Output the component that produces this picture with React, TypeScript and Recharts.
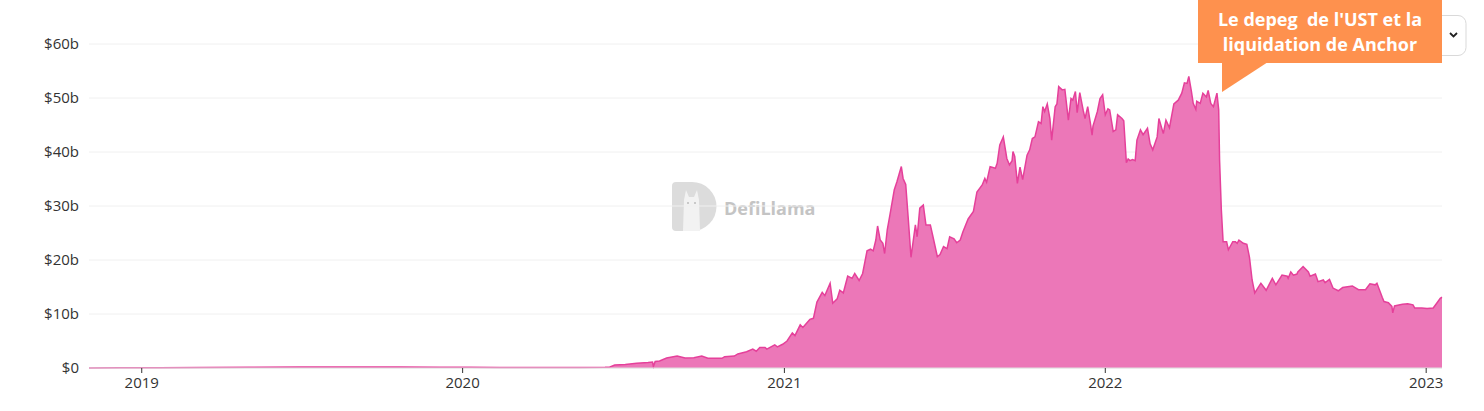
import React from "react";
import { AreaChart, Area, XAxis, YAxis, CartesianGrid } from "recharts";

const dates: string[] = [
  "2018-11-02","2018-12-07","2019-01-21","2019-03-08","2019-05-03","2019-06-29","2019-08-26","2019-10-22","2019-12-06","2020-01-09",
  "2020-02-12","2020-03-29","2020-05-13","2020-06-11","2020-06-16","2020-06-22","2020-07-04","2020-07-17","2020-07-30","2020-08-04",
  "2020-08-05","2020-08-07","2020-08-12","2020-08-20","2020-09-01","2020-09-10","2020-09-20","2020-09-29","2020-10-06","2020-10-22",
  "2020-10-25","2020-11-05","2020-11-09","2020-11-19","2020-11-26","2020-11-30","2020-12-04","2020-12-10","2020-12-12","2020-12-21",
  "2020-12-24","2020-12-30","2021-01-04","2021-01-10","2021-01-13","2021-01-19","2021-01-22","2021-01-30","2021-02-03","2021-02-07",
  "2021-02-13","2021-02-16","2021-02-22","2021-02-25","2021-03-02","2021-03-05","2021-03-09","2021-03-14","2021-03-19","2021-03-22",
  "2021-03-27","2021-03-31","2021-04-05","2021-04-09","2021-04-12","2021-04-15","2021-04-17","2021-04-20","2021-04-23","2021-04-25",
  "2021-04-28","2021-05-01","2021-05-06","2021-05-09","2021-05-14","2021-05-16","2021-05-19","2021-05-22","2021-05-25","2021-05-30",
  "2021-06-01","2021-06-04","2021-06-08","2021-06-11","2021-06-16","2021-06-19","2021-06-24","2021-06-27","2021-07-01","2021-07-05",
  "2021-07-08","2021-07-13","2021-07-16","2021-07-20","2021-07-23","2021-07-29","2021-08-04","2021-08-08","2021-08-14","2021-08-17",
  "2021-08-19","2021-08-23","2021-08-29","2021-08-31","2021-09-03","2021-09-07","2021-09-11","2021-09-14","2021-09-17","2021-09-18",
  "2021-09-20","2021-09-23","2021-09-26","2021-09-29","2021-10-04","2021-10-07","2021-10-10","2021-10-13","2021-10-17","2021-10-20",
  "2021-10-22","2021-10-24","2021-10-27","2021-10-30","2021-11-01","2021-11-05","2021-11-07","2021-11-09","2021-11-13","2021-11-16",
  "2021-11-20","2021-11-23","2021-11-25","2021-11-28","2021-11-30","2021-12-03","2021-12-07","2021-12-09","2021-12-12","2021-12-15",
  "2021-12-17","2021-12-18","2021-12-23","2021-12-26","2021-12-29","2022-01-01","2022-01-04","2022-01-06","2022-01-10","2022-01-13",
  "2022-01-15","2022-01-20","2022-01-22","2022-01-25","2022-01-27","2022-01-29","2022-02-01","2022-02-04","2022-02-06","2022-02-10",
  "2022-02-13","2022-02-18","2022-02-21","2022-02-24","2022-03-01","2022-03-03","2022-03-08","2022-03-11","2022-03-15","2022-03-20",
  "2022-03-25","2022-03-29","2022-04-01","2022-04-04","2022-04-06","2022-04-09","2022-04-11","2022-04-14","2022-04-15","2022-04-19",
  "2022-04-22","2022-04-26","2022-04-28","2022-05-01","2022-05-04","2022-05-08","2022-05-10","2022-05-11","2022-05-13","2022-05-15",
  "2022-05-19","2022-05-21","2022-05-26","2022-05-29","2022-05-31","2022-06-02","2022-06-07","2022-06-11","2022-06-14","2022-06-17",
  "2022-06-20","2022-06-27","2022-07-03","2022-07-10","2022-07-14","2022-07-21","2022-07-27","2022-07-28","2022-07-31","2022-08-03",
  "2022-08-07","2022-08-08","2022-08-14","2022-08-20","2022-08-22","2022-08-28","2022-08-31","2022-09-06","2022-09-08","2022-09-13",
  "2022-09-17","2022-09-23","2022-09-28","2022-10-09","2022-10-16","2022-10-24","2022-10-29","2022-11-04","2022-11-06","2022-11-12",
  "2022-11-14","2022-11-19","2022-11-23","2022-11-24","2022-11-26","2022-12-05","2022-12-11","2022-12-17","2022-12-19","2022-12-27",
  "2023-01-02","2023-01-09","2023-01-13","2023-01-17","2023-01-19",
];

const tvlBillions: number[] = [
  0.02,0.03,0.05,0.08,0.12,0.18,0.2,0.18,0.15,0.12,
  0.1,0.08,0.1,0.12,0.15,0.55,0.65,0.87,1.0,1.1,
  0.3,1.2,1.3,1.85,2.2,1.85,1.9,2.2,1.8,1.8,
  2.1,2.2,2.6,3.0,3.5,3.1,3.8,3.8,3.5,4.3,
  3.9,4.4,5.0,6.5,6.0,8.0,7.5,9.0,9.2,12.2,
  14.0,13.4,15.7,12.0,12.8,14.4,13.9,17.0,16.6,17.5,
  16.2,17.5,21.7,22.0,21.7,23.7,26.3,23.7,23.1,21.2,
  25.6,28.3,33.0,34.5,37.3,35.1,34.0,27.4,20.5,26.5,
  24.3,29.6,30.2,26.5,26.5,24.3,20.6,21.0,22.5,22.1,
  24.3,23.9,23.2,23.7,25.2,27.6,29.0,32.6,33.9,35.1,
  34.4,37.3,37.0,37.9,41.3,42.8,38.8,37.6,38.4,40.1,
  39.2,34.2,37.2,34.9,39.4,40.4,42.5,42.8,45.6,45.3,
  48.4,47.5,48.9,46.2,42.2,48.4,48.9,52.1,51.5,51.6,
  45.9,49.9,49.6,51.2,47.3,51.0,47.6,46.2,48.4,45.4,
  43.1,44.8,47.5,49.9,50.6,46.9,48.0,47.8,43.8,44.1,
  46.9,46.2,45.8,38.0,38.7,38.4,38.6,38.4,42.2,44.1,
  43.2,44.4,41.5,40.4,42.8,46.2,43.4,45.9,44.5,48.9,
  49.6,50.9,52.8,52.7,54.0,51.2,49.0,47.9,49.4,49.0,
  50.9,50.2,51.4,49.0,48.4,50.9,47.8,38.5,29.3,23.4,
  23.4,21.9,23.4,23.4,23.1,23.7,23.1,22.9,20.5,16.3,
  13.9,15.7,14.4,16.6,15.4,17.2,17.0,16.6,17.8,17.2,
  17.4,17.8,18.8,17.8,17.0,17.4,16.0,16.3,15.8,16.4,
  14.8,14.3,14.9,15.2,14.5,14.5,15.6,15.4,15.7,13.1,
  12.3,12.1,11.4,10.2,11.5,11.8,11.9,11.7,11.1,11.1,
  11.0,11.1,12.0,12.9,13.1,
];

const yearTicks: string[] = ["2019-01-01", "2020-01-01", "2021-01-01", "2022-01-01", "2023-01-01"];
const yTicks: number[] = [0, 10, 20, 30, 40, 50, 60];
const annotationLines: string[] = ["Le depeg  de l'UST et la", "liquidation de Anchor"];
const watermarkText = "DefiLlama";

const toTs = (d: string) => Date.parse(d + "T00:00:00Z");

const data = dates.map((d, i) => ({ ts: toTs(d), tvl: tvlBillions[i] }));
const xTicks = yearTicks.map(toTs);

const fmtY = (v: number) => (v === 0 ? "$0" : `$${v}b`);
const fmtX = (v: number) => String(new Date(v).getUTCFullYear());

const FONT = "'Open Sans', 'Noto Sans', sans-serif";

export default function App() {
  return (
    <div style={{ position: "absolute", left: 0, top: 0, width: 1484, height: 411, background: "#fff", fontFamily: FONT }}>
      {/* watermark */}
      <svg width={1484} height={411} style={{ position: "absolute", left: 0, top: 0 }}>
        <g>
          <path d="M676 182 H692 A24.5 24.5 0 0 1 692 231 H676 A4 4 0 0 1 672 227 V186 A4 4 0 0 1 676 182 Z" fill="#dcdcdc" />
          <path d="M684 200 L686 190 L689 197 L694 197 L697 190 L699 200 L700 231 L683 231 Z" fill="#f2f2f2" />
          <circle cx={688} cy={203} r={1} fill="#bbb" />
          <circle cx={695} cy={203} r={1} fill="#bbb" />
          <text x={724} y={215} fontFamily={FONT} fontWeight={700} fontSize={18} fill="#c4c4c4">{watermarkText}</text>
        </g>
      </svg>
      <div style={{ position: "absolute", left: 0, top: 0 }}>
        <AreaChart width={1484} height={411} data={data} margin={{ top: 44, right: 42, bottom: 0, left: 0 }}>
          <CartesianGrid horizontal vertical={false} stroke="#f0f0f0" />
          <XAxis
            dataKey="ts"
            type="number"
            scale="time"
            domain={["dataMin", "dataMax"]}
            ticks={xTicks}
            tickFormatter={fmtX}
            height={43}
            tickSize={5}
            tickMargin={4}
            axisLine={{ stroke: "#e0e0e0" }}
            tickLine={{ stroke: "#333" }}
            tick={{ fill: "#333", fontSize: 15, fontFamily: FONT }}
          />
          <YAxis
            domain={[0, 60]}
            ticks={yTicks}
            tickFormatter={fmtY}
            width={89}
            tickSize={0}
            tickMargin={10}
            axisLine={false}
            tickLine={false}
            tick={{ fill: "#333", fontSize: 15, fontFamily: FONT }}
          />
          <Area
            type="linear"
            dataKey="tvl"
            stroke="#E5409A"
            strokeWidth={1.5}
            fill="#EC77B8"
            fillOpacity={1}
            isAnimationActive={false}
          />
        </AreaChart>
      </div>
      {/* dropdown button and annotation */}
      <svg width={1484} height={411} style={{ position: "absolute", left: 0, top: 0, pointerEvents: "none" }}>
        <rect x={1430} y={15.5} width={36} height={40} rx={8} fill="#fff" stroke="#d9d9d9" />
        <path d="M1450 33 L1453.5 36.5 L1457 33" fill="none" stroke="#222" strokeWidth={1.8} />
        <rect x={1198} y={0} width={244} height={63} fill="#FE914E" />
        <polygon points="1222,62 1222,92 1268,62" fill="#FE914E" />
        {annotationLines.map((l, i) => (
          <text
            key={i}
            x={1320}
            y={26 + i * 25}
            textAnchor="middle"
            fontFamily={FONT}
            fontWeight={700}
            fontSize={18}
            fill="#fff"
            style={{ whiteSpace: "pre" }}
          >
            {l}
          </text>
        ))}
      </svg>
    </div>
  );
}
